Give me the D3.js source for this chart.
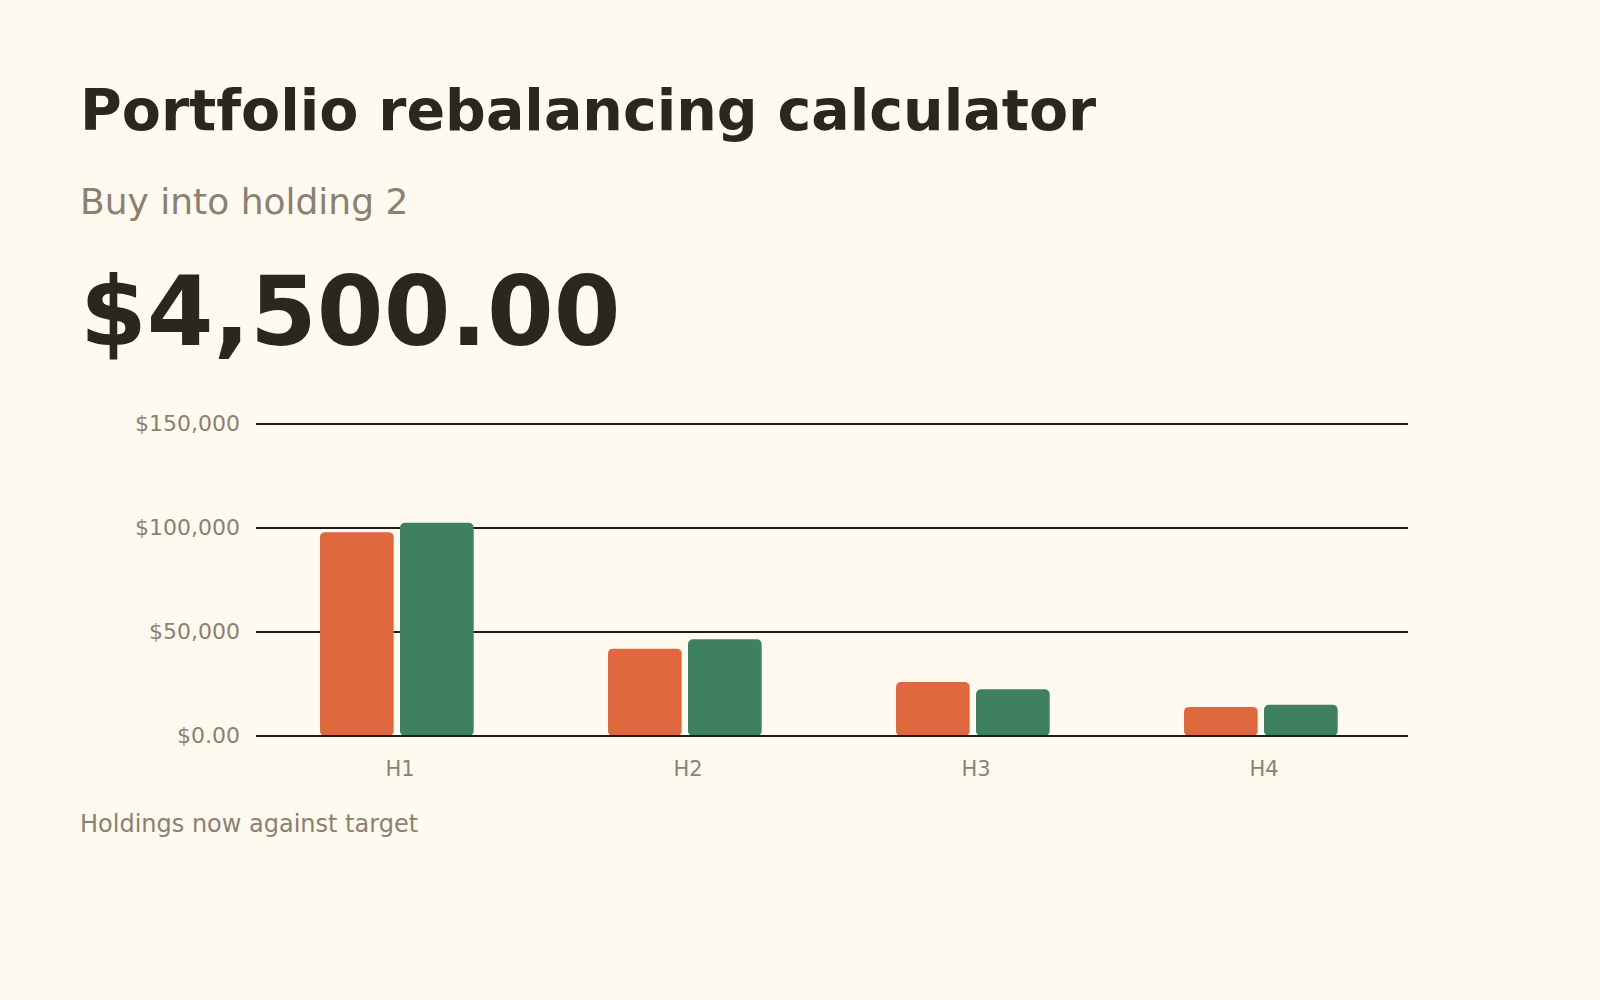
<!DOCTYPE html>
<html>
<head>
<meta charset="utf-8">
<script src="https://cdn.jsdelivr.net/npm/d3@7"></script>
<style>
  body { margin: 0; background: #fffaef; }
  text { font-family: "DejaVu Sans", sans-serif; }
</style>
</head>
<body>
<div id="chart"></div>
<script>
// chart data
var holdings = ["H1", "H2", "H3", "H4"];
var seriesKeys = ["now", "target"];
var nowValues = [98000, 42000, 26000, 14000];
var targetValues = [102500, 46500, 22500, 15000];
var yTicks = [0, 50000, 100000, 150000];

var width = 1600;
var height = 1000;

// plot area
var plotLeft = 256;
var plotRight = 1408;
var plotTop = 424;
var plotBottom = 736;

var svg = d3
  .select("#chart")
  .append("svg")
  .attr("width", width)
  .attr("height", height);

svg.append("rect")
  .attr("width", width)
  .attr("height", height)
  .attr("fill", "#fffaef");

// headings
svg.append("text")
  .attr("x", 80)
  .attr("y", 130)
  .attr("font-size", 57)
  .attr("font-weight", "bold")
  .attr("fill", "#2a2620")
  .text("Portfolio rebalancing calculator");

svg.append("text")
  .attr("x", 80)
  .attr("y", 214)
  .attr("font-size", 36)
  .attr("fill", "#8c8070")
  .text("Buy into holding 2");

svg.append("text")
  .attr("x", 80)
  .attr("y", 345)
  .attr("font-size", 96)
  .attr("font-weight", "bold")
  .attr("fill", "#2a2620")
  .text("$4,500.00");

svg.append("text")
  .attr("x", 80)
  .attr("y", 832)
  .attr("font-size", 24)
  .attr("fill", "#8c8070")
  .text("Holdings now against target");

// scales
var x0 = d3.scaleBand()
  .domain(holdings)
  .range([plotLeft, plotRight])
  .paddingInner(4 / 9)
  .paddingOuter(2 / 9);

var x1 = d3.scaleBand()
  .domain(seriesKeys)
  .range([0, x0.bandwidth()]);

var y = d3.scaleLinear()
  .domain([0, 150000])
  .range([plotBottom, plotTop]);

var color = { now: "#e0683e", target: "#3f8062" };

var fmt = function(v) {
  return v === 0 ? "$0.00" : "$" + d3.format(",")(v);
};

// gridlines + y labels
var yAxis = d3.axisLeft(y)
  .tickValues(yTicks)
  .tickSize(-(plotRight - plotLeft))
  .tickPadding(16)
  .offset(0)
  .tickFormat(fmt);

var gy = svg.append("g")
  .attr("transform", "translate(" + plotLeft + ",0)")
  .call(yAxis);
gy.select(".domain").remove();
gy.selectAll(".tick line")
  .attr("stroke", "#1f1c17")
  .attr("stroke-width", 2);
gy.selectAll(".tick text")
  .attr("font-size", 22)
  .attr("fill", "#8c8070");

// bars
var rows = holdings.map(function(h, i) {
  return { holding: h, now: nowValues[i], target: targetValues[i] };
});

var groups = svg.selectAll("g.holding")
  .data(rows)
  .enter()
  .append("g")
  .attr("class", "holding")
  .attr("transform", function(d) {
    return "translate(" + x0(d.holding) + ",0)";
  });

groups.selectAll("rect")
  .data(function(d) {
    return seriesKeys.map(function(k) { return { key: k, value: d[k] }; });
  })
  .enter()
  .append("rect")
  .attr("x", function(d) { return x1(d.key); })
  .attr("y", function(d) { return y(d.value); })
  .attr("width", x1.bandwidth() - 6.3)
  .attr("height", function(d) { return y(0) - y(d.value); })
  .attr("rx", 5)
  .attr("fill", function(d) { return color[d.key]; });

// zero line on top
svg.append("line")
  .attr("x1", plotLeft)
  .attr("x2", plotRight)
  .attr("y1", y(0))
  .attr("y2", y(0))
  .attr("stroke", "#1f1c17")
  .attr("stroke-width", 2);

// x labels
var xAxis = d3.axisBottom(x0).tickSize(0).tickPadding(0);
var gx = svg.append("g")
  .attr("transform", "translate(0," + plotBottom + ")")
  .call(xAxis);
gx.select(".domain").remove();
gx.selectAll(".tick text")
  .attr("dy", null)
  .attr("y", 40)
  .attr("font-size", 21)
  .attr("fill", "#8c8070");
</script>
</body>
</html>
